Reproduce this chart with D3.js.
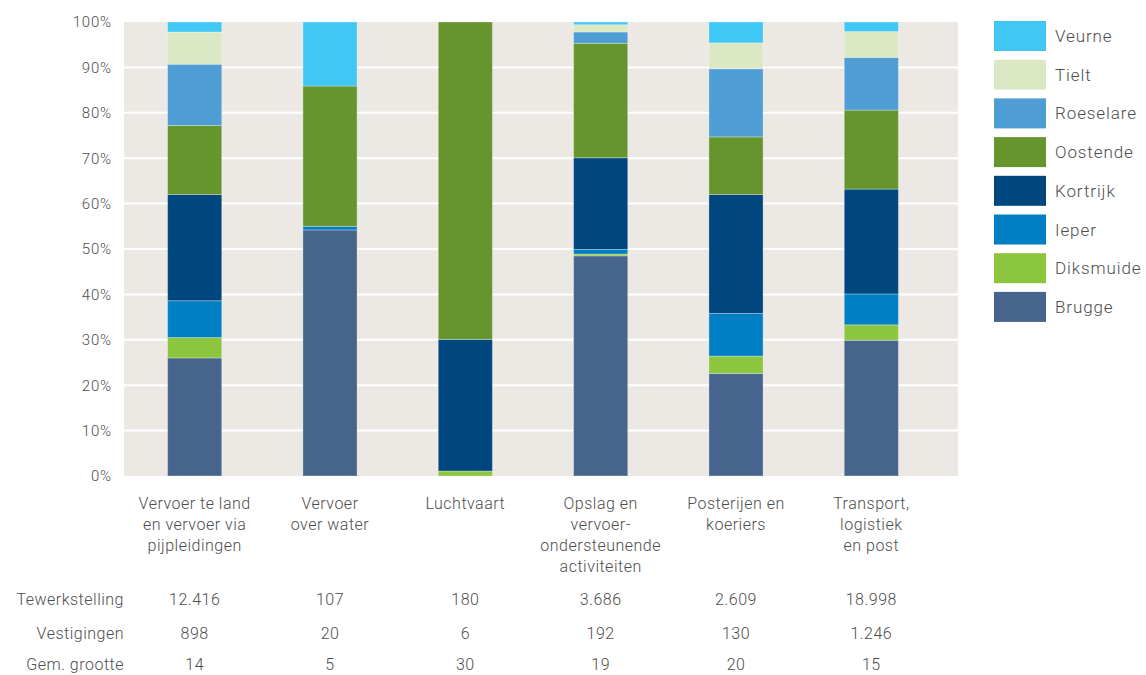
<!DOCTYPE html>
<html>
<head>
<meta charset="utf-8">
<script src="https://cdn.jsdelivr.net/npm/d3@7"></script>
<style>
  body { margin: 0; background: #ffffff; }
  svg text { font-family: Roboto, "Noto Sans", sans-serif; font-weight: 300; fill: #4d4d4d; }
</style>
</head>
<body>
<svg id="chart" width="1146" height="675"></svg>
<script>
// sectors (x categories), each label split in lines
var sectors = [
  ["Vervoer te land", "en vervoer via", "pijpleidingen"],
  ["Vervoer", "over water"],
  ["Luchtvaart"],
  ["Opslag en", "vervoer-", "ondersteunende", "activiteiten"],
  ["Posterijen en", "koeriers"],
  ["Transport,", "logistiek", "en post"]
];

// regions, bottom to top in the stack
var regions = ["Brugge", "Diksmuide", "Ieper", "Kortrijk", "Oostende", "Roeselare", "Tielt", "Veurne"];
var regionColors = ["#46648c", "#8cc63f", "#007fc4", "#00467f", "#66952e", "#4e9dd4", "#dae9c3", "#41c7f3"];

// share per region (%) for each sector
var brugge    = [26.0, 54.2, 0.0, 48.5, 22.6, 29.9];
var diksmuide = [4.5, 0.0, 1.1, 0.4, 3.8, 3.4];
var ieper     = [8.1, 0.8, 0.0, 1.0, 9.4, 6.8];
var kortrijk  = [23.4, 0.0, 29.0, 20.2, 26.2, 23.1];
var oostende  = [15.2, 30.9, 69.9, 25.2, 12.7, 17.4];
var roeselare = [13.5, 0.0, 0.0, 2.5, 15.0, 11.6];
var tielt     = [7.1, 0.0, 0.0, 1.6, 5.7, 5.7];
var veurne    = [2.2, 14.1, 0.0, 0.6, 4.6, 2.1];

var rowLabels = ["Tewerkstelling", "Vestigingen", "Gem. grootte"];
var tewerkstelling = ["12.416", "107", "180", "3.686", "2.609", "18.998"];
var vestigingen = ["898", "20", "6", "192", "130", "1.246"];
var gemGrootte = ["14", "5", "30", "19", "20", "15"];

var yTicks = [0, 10, 20, 30, 40, 50, 60, 70, 80, 90, 100];

var svg = d3.select("#chart");

var plot = { left: 124, right: 958, top: 22, bottom: 476 };

var series = [brugge, diksmuide, ieper, kortrijk, oostende, roeselare, tielt, veurne];
var rows = sectors.map(function (s, i) {
  var r = { idx: i };
  regions.forEach(function (reg, k) { r[reg] = series[k][i]; });
  return r;
});

var x = d3.scaleBand()
  .domain(d3.range(sectors.length))
  .range([127, 939])
  .paddingInner(0.6)
  .paddingOuter(0.3);

var y = d3.scaleLinear()
  .domain([0, 100])
  .range([plot.bottom, plot.top]);

var color = d3.scaleOrdinal().domain(regions).range(regionColors);

// background
svg.append("rect")
  .attr("x", plot.left)
  .attr("y", plot.top)
  .attr("width", plot.right - plot.left)
  .attr("height", plot.bottom - plot.top)
  .attr("fill", "#ece9e4");

// gridlines
svg.append("g")
  .selectAll("line")
  .data(yTicks.filter(function (d) { return d > 0 && d < 100; }))
  .enter().append("line")
  .attr("x1", plot.left)
  .attr("x2", plot.right)
  .attr("y1", function (d) { return y(d); })
  .attr("y2", function (d) { return y(d); })
  .attr("stroke", "#ffffff")
  .attr("stroke-width", 2);

// y axis labels
var yAxis = d3.axisLeft(y)
  .tickValues(yTicks)
  .tickFormat(function (d) { return d + "%"; })
  .tickSize(0)
  .tickPadding(12);

var yg = svg.append("g")
  .attr("transform", "translate(" + plot.left + ",0)")
  .call(yAxis);
yg.select(".domain").remove();
yg.selectAll("text")
  .style("font-size", "15px")
  .style("font-family", "Roboto, sans-serif")
  .style("font-weight", 300)
  .style("letter-spacing", "0.8px")
  .attr("fill", "#555555");

// stacked bars
var stacked = d3.stack().keys(regions)(rows);

svg.append("g")
  .selectAll("g")
  .data(stacked)
  .enter().append("g")
  .attr("fill", function (d) { return color(d.key); })
  .selectAll("rect")
  .data(function (d) { return d; })
  .enter().append("rect")
  .filter(function (d) { return d[1] - d[0] > 0; })
  .attr("x", function (d) { return x(d.data.idx); })
  .attr("width", x.bandwidth())
  .attr("y", function (d) { return y(d[1]); })
  .attr("height", function (d) { return y(d[0]) - y(d[1]); })
  .attr("stroke", "rgba(255,255,255,0.3)")
  .attr("stroke-width", 1);

// category labels
var catG = svg.append("g")
  .selectAll("text")
  .data(sectors)
  .enter().append("text")
  .attr("text-anchor", "middle")
  .attr("x", function (d, i) { return x(i) + x.bandwidth() / 2; })
  .attr("y", 509)
  .style("font-size", "16px")
  .style("letter-spacing", "0.5px");

catG.selectAll("tspan")
  .data(function (d) { return d; })
  .enter().append("tspan")
  .attr("x", function () { return d3.select(this.parentNode).attr("x"); })
  .attr("dy", function (d, i) { return i === 0 ? 0 : 21; })
  .text(function (d) { return d; });

// table under the chart
var tableRows = [tewerkstelling, vestigingen, gemGrootte];
var rowY = [605, 639, 670];

tableRows.forEach(function (vals, r) {
  svg.append("text")
    .attr("x", 124)
    .attr("y", rowY[r])
    .attr("text-anchor", "end")
    .style("font-size", "16px")
    .style("letter-spacing", "0.5px")
    .text(rowLabels[r]);

  svg.append("g")
    .selectAll("text")
    .data(vals)
    .enter().append("text")
    .attr("x", function (d, i) { return x(i) + x.bandwidth() / 2; })
    .attr("y", rowY[r])
    .attr("text-anchor", "middle")
    .style("font-size", "16px")
    .style("letter-spacing", "0.5px")
    .text(function (d) { return d; });
});

// legend, top to bottom
var legendItems = regions.slice().reverse();
var legend = svg.append("g")
  .selectAll("g")
  .data(legendItems)
  .enter().append("g")
  .attr("transform", function (d, i) { return "translate(994," + (21 + i * 38.7) + ")"; });

legend.append("rect")
  .attr("width", 52)
  .attr("height", 30)
  .attr("fill", function (d) { return color(d); });

legend.append("text")
  .attr("x", 61)
  .attr("y", 21)
  .style("font-size", "17px")
  .style("letter-spacing", "0.9px")
  .text(function (d) { return d; });
</script>
</body>
</html>
